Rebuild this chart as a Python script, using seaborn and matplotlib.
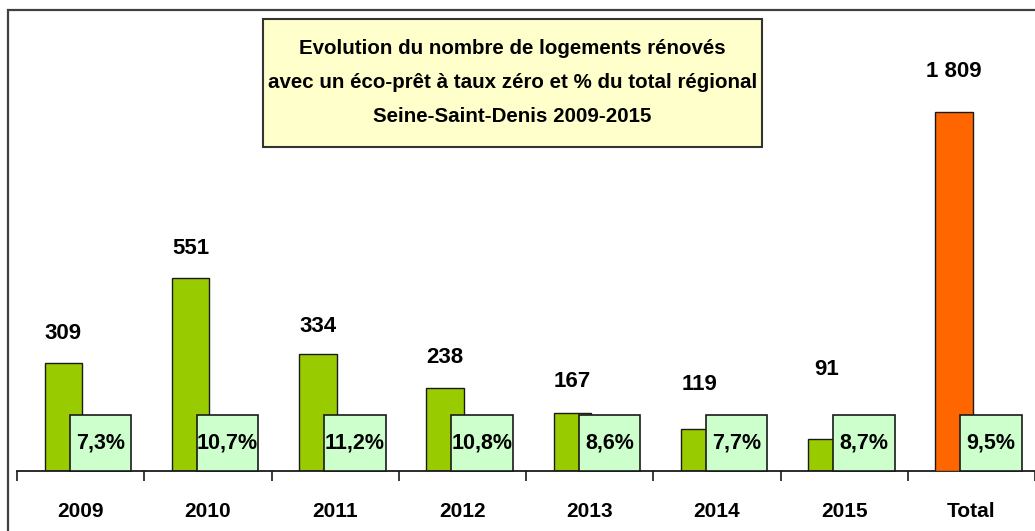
import numpy as np
import pandas as pd
import matplotlib
matplotlib.use("Agg")
import matplotlib.pyplot as plt
import matplotlib.patches as mpatches
from matplotlib import font_manager
import seaborn as sns

### Data
categories = ["2009", "2010", "2011", "2012", "2013", "2014", "2015", "Total"]
years = ["2009", "2010", "2011", "2012", "2013", "2014", "2015"]
logements = [309, 551, 334, 238, 167, 119, 91]
total_label = "Total"
total_value = 1809
pct_labels = ["7,3%", "10,7%", "11,2%", "10,8%", "8,6%", "7,7%", "8,7%", "9,5%"]
value_labels = ["309", "551", "334", "238", "167", "119", "91", "1 809"]
title_lines = [
    "Evolution du nombre de logements rénovés",
    "avec un éco-prêt à taux zéro et % du total régional",
    "Seine-Saint-Denis 2009-2015",
]

### Style
GREEN = "#99CC00"
ORANGE = "#FF6600"
BOX_GREEN = "#CCFFCC"
BOX_YELLOW = "#FFFFCC"
EDGE = "#1a1a1a"
BAR_W = 0.295
BAR_SHIFT = -0.136
BOX_X0, BOX_W, BOX_H = -0.086, 0.483, 0.1215
# label offsets above bar top (points)
label_pad = [21, 21, 20, 22, 22, 32, 50, 29]

sns.set_style("white")

# the original uses a narrow bold face; use one if present
installed = {f.name for f in font_manager.fontManager.ttflist}
if "Liberation Sans Narrow" in installed:
    FAMILY = ["Liberation Sans Narrow", "DejaVu Sans"]
    fs_title, fs_val, fs_pct, fs_cat = 17.5, 18, 18, 17
else:
    FAMILY = ["Liberation Sans", "DejaVu Sans"]
    fs_title, fs_val, fs_pct, fs_cat = 14.8, 16, 15.5, 15
plt.rcParams["font.family"] = FAMILY
plt.rcParams["font.weight"] = "bold"
plt.rcParams["text.color"] = "black"
plt.rcParams["xtick.color"] = "black"
plt.rcParams["xtick.labelcolor"] = "black"

W, H = 1035, 531
fig = plt.figure(figsize=(W / 100, H / 100), dpi=100)
ax = fig.add_axes([17 / W, 60 / H, 1 - 17 / W, 461 / H])

df_years = pd.DataFrame({"cat": years, "val": logements})
sns.barplot(data=df_years, x="cat", y="val", order=categories, color=GREEN,
            saturation=1, width=BAR_W, edgecolor=EDGE, linewidth=1, ax=ax)
for p in ax.patches:
    p.set_x(p.get_x() + BAR_SHIFT)

ax2 = ax.twinx()
df_tot = pd.DataFrame({"cat": [total_label], "val": [total_value]})
sns.barplot(data=df_tot, x="cat", y="val", order=categories, color=ORANGE,
            saturation=1, width=BAR_W, edgecolor=EDGE, linewidth=1, ax=ax2)
for p in ax2.patches:
    p.set_x(p.get_x() + BAR_SHIFT)

ax.set_xlim(-0.5, len(categories) - 0.5)
ax2.set_xlim(-0.5, len(categories) - 0.5)
ax.set_ylim(0, 461 / 0.35)
ax2.set_ylim(0, 461 / 0.1985)

# value labels
all_vals = logements + [total_value]
for i, (v, lab, pad) in enumerate(zip(all_vals, value_labels, label_pad)):
    target = ax2 if i == len(categories) - 1 else ax
    target.annotate(lab, xy=(i + BAR_SHIFT, v), xytext=(0, pad),
                    textcoords="offset points", ha="center", va="center",
                    fontsize=fs_val, fontweight="bold", color="black")

# percentage boxes
trans = ax2.get_xaxis_transform()
for i, lab in enumerate(pct_labels):
    rect = mpatches.Rectangle((i + BOX_X0, 0), BOX_W, BOX_H, transform=trans,
                              facecolor=BOX_GREEN, edgecolor=EDGE, linewidth=1.2,
                              zorder=5, clip_on=False)
    ax2.add_patch(rect)
    ax2.text(i + BOX_X0 + BOX_W / 2, BOX_H / 2, lab, transform=trans,
             ha="center", va="center", fontsize=fs_pct, fontweight="bold",
             color="black", zorder=6)

# axes styling
for a in (ax, ax2):
    for s in ("left", "right", "top"):
        a.spines[s].set_visible(False)
    a.set_xlabel("")
    a.set_ylabel("")
    a.set_yticks([])
ax.spines["bottom"].set_linewidth(1.3)
ax.spines["bottom"].set_color(EDGE)
ax2.spines["bottom"].set_visible(False)

ax.set_xticks(range(len(categories)))
ax.set_xticklabels(categories, fontsize=fs_cat, fontweight="bold")
ax.set_xticks(np.arange(-0.5, len(categories)), minor=True)
ax.tick_params(axis="x", which="major", bottom=True, length=0, pad=22)
ax.tick_params(axis="x", which="minor", bottom=True, length=7,
               width=1.2, color=EDGE, direction="out")

# outer frame
frame = mpatches.Rectangle((8 / W, -0.05), 1.1, 1 - 10 / H + 0.05,
                           transform=fig.transFigure, fill=False,
                           edgecolor="#404040", linewidth=1.6, clip_on=False)
fig.patches.append(frame)

# title box
tbox = mpatches.Rectangle((263 / W, 1 - 147 / H), 499 / W, 128 / H,
                          transform=fig.transFigure, facecolor=BOX_YELLOW,
                          edgecolor="#333333", linewidth=1.5, zorder=10)
fig.patches.append(tbox)
for line, ypx in zip(title_lines, [48, 83, 117]):
    fig.text(512.5 / W, 1 - ypx / H, line, ha="center", va="center",
             fontsize=fs_title, fontweight="bold", color="black", zorder=11)

fig.savefig("out.png", dpi=100)
